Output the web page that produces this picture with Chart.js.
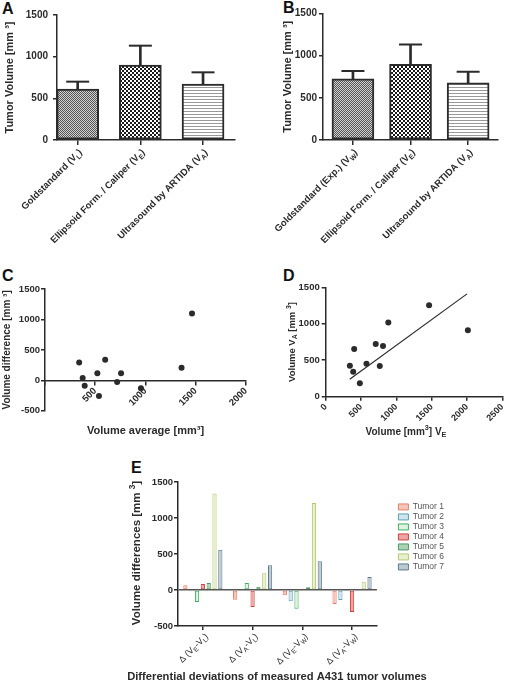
<!DOCTYPE html>
<html>
<head>
<meta charset="utf-8">
<script src="https://cdn.jsdelivr.net/npm/chart.js@4.4.1/dist/chart.umd.min.js"></script>
<style>
  html, body { margin: 0; padding: 0; background: #fff; overflow: hidden; }
  body { width: 511px; height: 682px; position: relative; }
  .pane { position: absolute; }
  .tag { position: absolute; font: bold 16px/16px 'Liberation Sans', Arial, sans-serif; color: #111; }
</style>
</head>
<body>
<div class="tag" style="left:2px;top:1px">A</div>
<div class="tag" style="left:283px;top:0px">B</div>
<div class="tag" style="left:2px;top:268px">C</div>
<div class="tag" style="left:283px;top:268px">D</div>
<div class="tag" style="left:131px;top:460px">E</div>

<div class="pane" style="left:0;top:0;width:255px;height:270px"><canvas id="chartA"></canvas></div>
<div class="pane" style="left:255px;top:0;width:256px;height:270px"><canvas id="chartB"></canvas></div>
<div class="pane" style="left:0;top:270px;width:255px;height:170px"><canvas id="chartC"></canvas></div>
<div class="pane" style="left:255px;top:270px;width:256px;height:170px"><canvas id="chartD"></canvas></div>
<div class="pane" style="left:100px;top:450px;width:411px;height:232px"><canvas id="chartE"></canvas></div>

<script>
/* ---- data ---- */
/* "_X" = subscript X, "^X" = superscript X (drawn by richText) */
const CAT_A  = ['Goldstandard (V_L)', 'Ellipsoid Form. / Caliper (V_E)', 'Ultrasound by ARTIDA (V_A)'];
const MEAN_A = [612, 900, 672];
const TOP_A  = [700, 1132, 812];

const CAT_B  = ['Goldstandard (Exp.) (V_W)', 'Ellipsoid Form. / Caliper (V_E)', 'Ultrasound by ARTIDA (V_A)'];
const MEAN_B = [726, 896, 679];
const TOP_B  = [817, 1133, 809];

const C_AVG  = [340, 375, 395, 521, 537, 599, 718, 757, 955, 1359, 1463];
const C_DIFF = [295, 38, -87, 115, -257, 339, -27, 115, -131, 208, 1098];

const D_VE  = [342, 389, 403, 483, 577, 708, 765, 811, 886, 1463, 2012];
const D_VA  = [425, 343, 654, 183, 453, 723, 421, 695, 1016, 1254, 910];
const FIT_X = [340, 2000];
const FIT_Y = [240, 1410];

const CAT_E  = ['\u0394 (V_E-V_L)', '\u0394 (V_A-V_L)', '\u0394 (V_E-V_W)', '\u0394 (V_A-V_W)'];
const TUMORS = ['Tumor 1', 'Tumor 2', 'Tumor 3', 'Tumor 4', 'Tumor 5', 'Tumor 6', 'Tumor 7'];
const E_T1 = [65, -134, -74, -194];
const E_T2 = [-18, 0, -157, -139];
const E_T3 = [-167, 97, -259, -8];
const E_T4 = [83, -236, 18, -306];
const E_T5 = [97, 46, 37, -15];
const E_T6 = [1340, 231, 1210, 116];
const E_T7 = [560, 343, 398, 181];

const TUMOR_LINE = ['#e5806c', '#5a9fb4', '#3fae5e', '#d2403e', '#4f9863', '#b3c978', '#5c7a8a'];
const TUMOR_FILL = ['#f5c6b8', '#cfe4ec', '#dff2e2', '#eaa7a3', '#acd2b4', '#e9f0cc', '#bccbd3'];

/* ---- shared look ---- */
const FONT = "'Liberation Sans', Arial, Helvetica, sans-serif";
const INK  = '#2b2b2b';

Chart.defaults.font.family = FONT;
Chart.defaults.color = INK;
Chart.defaults.animation = false;
Chart.defaults.events = [];
Chart.defaults.plugins.legend.display = false;
Chart.defaults.plugins.tooltip.enabled = false;

const axisLine  = { display: true, color: INK, width: 1.5 };
const tickMarks = { display: true, drawOnChartArea: false, drawTicks: true, tickLength: 4, color: INK, lineWidth: 1.5, offset: false };
const bold = size => ({ size, weight: 'bold' });
const plain = v => String(v);   // no thousands separator, like the figure

/* small tiled fills for the GraphPad style bars */
function makePattern(w, h, draw) {
  const c = document.createElement('canvas');
  c.width = w; c.height = h;
  const g = c.getContext('2d');
  draw(g);
  return g.createPattern(c, 'repeat');
}
const patFine = makePattern(2, 2, g => {
  g.fillStyle = '#d2d2d2'; g.fillRect(0, 0, 2, 2);
  g.fillStyle = '#555'; g.fillRect(0, 0, 1, 1); g.fillRect(1, 1, 1, 1);
});
const patCheck = makePattern(4, 4, g => {
  g.fillStyle = '#fff'; g.fillRect(0, 0, 4, 4);
  g.fillStyle = '#1a1a1a'; g.fillRect(0, 0, 2, 2); g.fillRect(2, 2, 2, 2);
});
const patStripe = makePattern(4, 3, g => {
  g.fillStyle = '#fff'; g.fillRect(0, 0, 4, 3);
  g.fillStyle = '#999'; g.fillRect(0, 0, 4, 1);
});

/* text with sub/superscripts */
function richText(ctx, str, x, y, size, weight, align, angle) {
  const parts = [];
  for (let i = 0; i < str.length; i++) {
    const c = str[i];
    if ((c === '_' || c === '^') && i + 1 < str.length) { parts.push({ t: str[i + 1], k: c }); i++; continue; }
    const last = parts[parts.length - 1];
    if (last && last.k === '') last.t += c; else parts.push({ t: c, k: '' });
  }
  ctx.save();
  ctx.translate(x, y);
  ctx.rotate(angle);
  ctx.textAlign = 'left';
  ctx.textBaseline = 'middle';
  ctx.fillStyle = INK;
  const font = k => `${weight} ${k ? size * 0.72 : size}px ${FONT}`;
  let w = 0;
  parts.forEach(p => { ctx.font = font(p.k); p.w = ctx.measureText(p.t).width; w += p.w; });
  let cx = align === 'right' ? -w : align === 'center' ? -w / 2 : 0;
  parts.forEach(p => {
    ctx.font = font(p.k);
    ctx.fillText(p.t, cx, p.k === '_' ? size * 0.32 : p.k === '^' ? -size * 0.35 : 0);
    cx += p.w;
  });
  ctx.restore();
}

/* rotated category labels under the x axis */
function catLabels(cats, dx, dy, size, weight) {
  return {
    id: 'catLabels',
    afterDraw(chart) {
      const sx = chart.scales.x;
      cats.forEach((t, i) => {
        richText(chart.ctx, t, sx.getPixelForValue(i) + dx, chart.chartArea.bottom + dy, size, weight, 'right', -Math.PI / 4);
      });
    }
  };
}

/* free axis titles (sub/superscripts, no squeezing) */
function axisTitles(list) {
  return {
    id: 'axisTitles',
    afterDraw(chart) {
      list.forEach(t => richText(chart.ctx, t.text, t.x, t.y, t.size, 'bold', 'center', t.rot));
    }
  };
}

/* ── A / B: mean bars with upper error bar ── */
function barPanel(id, cats, means, tops, xMin, yWidth, padRight, padTop, titlePad, tickPad) {
  const H = 270;
  return new Chart(document.getElementById(id), {
    type: 'bar',
    data: {
      datasets: [
        {
          data: means.map((v, i) => ({ x: i, y: v })),
          backgroundColor: [patFine, patCheck, patStripe],
          borderColor: INK, borderWidth: 2, borderSkipped: false,
          barThickness: 42, grouped: false,
        },
        {
          data: means.map((v, i) => ({ x: i, y: [v, tops[i]] })),
          backgroundColor: INK, borderWidth: 0,
          barThickness: 2, grouped: false,
        },
        {
          type: 'scatter',
          data: tops.map((v, i) => ({ x: i, y: v })),
          pointStyle: 'line', pointRadius: 11.5, pointBorderWidth: 2, pointBorderColor: INK,
        },
      ],
    },
    options: {
      responsive: true, maintainAspectRatio: false,
      layout: { padding: { top: padTop, right: padRight, bottom: 0, left: 0 } },
      scales: {
        x: {
          type: 'linear', min: xMin, max: 2.51, offset: false,
          afterBuildTicks: s => { s.ticks = cats.map((_, i) => ({ value: i })); },
          ticks: { display: false },
          grid: { ...tickMarks, tickLength: 5 },
          border: axisLine,
          afterFit: s => { s.height = H - 140; },
        },
        y: {
          min: 0, max: 1500,
          ticks: { stepSize: 500, font: bold(10), color: INK, padding: tickPad, callback: plain },
          grid: tickMarks,
          border: axisLine,
          title: { display: true, text: 'Tumor Volume [mm \u00b3]', font: bold(11), color: INK, padding: { top: titlePad, bottom: 0 } },
          afterFit: s => { s.width = yWidth; },
        },
      },
    },
    plugins: [catLabels(cats, 3, 11, 9.5, 'bold')],
  });
}

barPanel('chartA', CAT_A, MEAN_A, TOP_A, -0.33, 57, 20, 15, 3.4, 5);
barPanel('chartB', CAT_B, MEAN_B, TOP_B, -0.52, 68, 1, 13.3, 26.4, 2);

/* ── C: difference vs average ── */
new Chart(document.getElementById('chartC'), {
  type: 'scatter',
  data: {
    datasets: [{
      data: C_AVG.map((x, i) => ({ x, y: C_DIFF[i] })),
      backgroundColor: INK, borderWidth: 0, pointRadius: 3,
    }],
  },
  options: {
    responsive: true, maintainAspectRatio: false,
    layout: { padding: { top: 19, right: 4, bottom: 0, left: 0 } },
    plugins: {
      title: {
        display: true, position: 'bottom', fullSize: false,
        text: 'Volume average [mm\u00b3]', font: bold(11), color: INK,
        padding: { top: 14, bottom: 2 },
      },
    },
    scales: {
      x: {
        type: 'linear', position: { y: 0 }, min: 0, max: 2000,
        ticks: { stepSize: 500, minRotation: 45, maxRotation: 45, font: bold(9.5), color: INK, padding: 1,
                 callback: v => (v === 0 ? '' : String(v)) },
        grid: tickMarks,
        border: axisLine,
      },
      y: {
        min: -500, max: 1500,
        ticks: { stepSize: 500, font: bold(9.5), color: INK, padding: 1, callback: plain },
        grid: tickMarks,
        border: axisLine,
        title: { display: true, text: 'Volume difference [mm \u00b3]', font: bold(10), color: INK, padding: { top: 1.3, bottom: 0 } },
        afterFit: s => { s.width = 45; },
      },
    },
  },
});

/* ── D: V_A against V_E with linear fit ── */
new Chart(document.getElementById('chartD'), {
  type: 'scatter',
  data: {
    datasets: [
      {
        data: D_VE.map((x, i) => ({ x, y: D_VA[i] })),
        backgroundColor: INK, borderWidth: 0, pointRadius: 3,
      },
      {
        type: 'line',
        data: FIT_X.map((x, i) => ({ x, y: FIT_Y[i] })),
        borderColor: INK, borderWidth: 1.2, pointRadius: 0, fill: false,
      },
    ],
  },
  options: {
    responsive: true, maintainAspectRatio: false,
    layout: { padding: { top: 17.3, right: 7.7, bottom: 0, left: 0 } },
    scales: {
      x: {
        type: 'linear', min: 0, max: 2500,
        ticks: { stepSize: 500, minRotation: 45, maxRotation: 45, font: bold(9), color: INK, padding: 1, callback: plain },
        grid: tickMarks,
        border: axisLine,
        afterFit: s => { s.height = 43.3; },
      },
      y: {
        min: 0, max: 1500,
        ticks: { stepSize: 500, font: bold(9.5), color: INK, padding: 2, callback: plain },
        grid: tickMarks,
        border: axisLine,
        afterFit: s => { s.width = 70.7; },
      },
    },
  },
  plugins: [axisTitles([
    { text: 'Volume V_A [mm ^3]', x: 37, y: 72, size: 9.5, rot: -Math.PI / 2 },
    { text: 'Volume [mm^3] V_E', x: 151, y: 162, size: 10, rot: 0 },
  ])],
});

/* ── E: per-tumour differences ── */
const E_SERIES = [E_T1, E_T2, E_T3, E_T4, E_T5, E_T6, E_T7];
new Chart(document.getElementById('chartE'), {
  type: 'bar',
  data: {
    labels: CAT_E,
    datasets: E_SERIES.map((vals, i) => ({
      label: TUMORS[i],
      data: vals,
      backgroundColor: TUMOR_FILL[i],
      borderColor: TUMOR_LINE[i],
      borderWidth: 1,
      borderSkipped: false,
      categoryPercentage: 0.82,
      barPercentage: 0.72,
    })),
  },
  options: {
    responsive: true, maintainAspectRatio: false,
    layout: { padding: { top: 32, right: 57, bottom: 0, left: 0 } },
    plugins: {
      legend: {
        display: true, position: 'right', align: 'start',
        title: { display: true, text: ' ', font: { size: 8 }, padding: { top: 9.6, bottom: 0 } },
        labels: { boxWidth: 10, boxHeight: 6, padding: 1.5, color: '#555', font: { size: 8.5 } },
      },
    },
    scales: {
      x: {
        offset: true,
        ticks: { display: false },
        grid: tickMarks,
        border: axisLine,
        afterFit: s => { s.height = 56; },
      },
      y: {
        min: -500, max: 1500,
        ticks: { stepSize: 500, font: bold(9.5), color: INK, padding: 1, callback: plain },
        grid: {
          display: true, drawOnChartArea: true, drawTicks: true, tickLength: 4, lineWidth: 1.5,
          color: c => (c.tick && c.tick.value === 0 ? '#555' : 'rgba(0,0,0,0)'),
          tickColor: INK,
        },
        border: axisLine,
        afterFit: s => { s.width = 78; },
      },
      y2: {
        position: 'right', display: true,
        grid: { display: false }, ticks: { display: false }, border: { display: false },
        afterFit: s => { s.width = 20; },
      },
    },
  },
  plugins: [
    catLabels(CAT_E, 4, 9, 9, 'normal'),
    axisTitles([
      { text: 'Volume differences [mm ^3]', x: 37, y: 103, size: 11.5, rot: -Math.PI / 2 },
      { text: 'Differential deviations of measured A431 tumor volumes', x: 177, y: 227, size: 11.2, rot: 0 },
    ]),
  ],
});
</script>
</body>
</html>
